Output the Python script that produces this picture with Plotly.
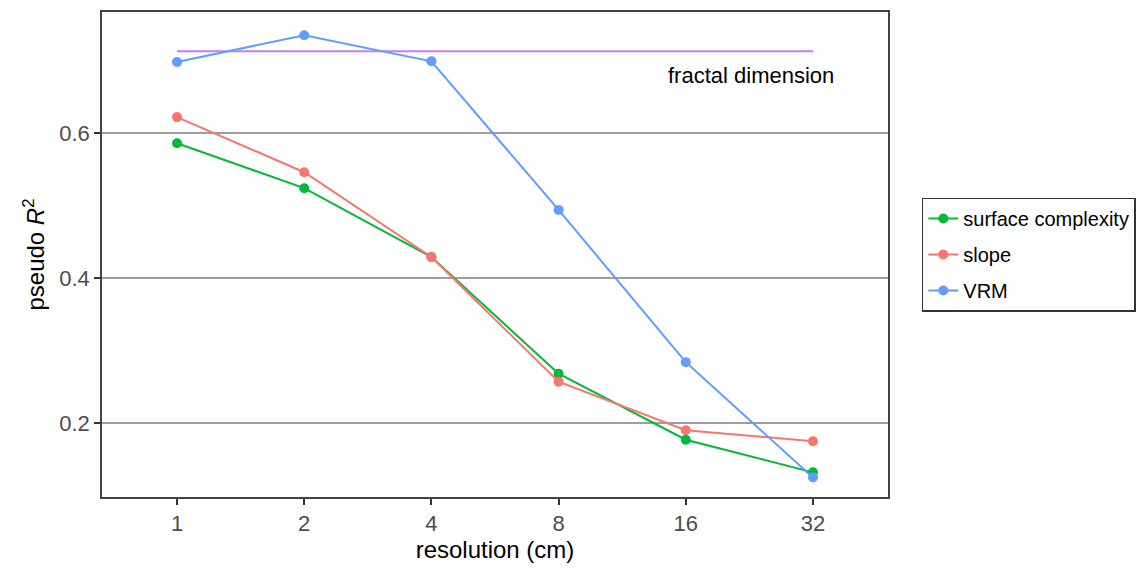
import plotly.graph_objects as go

resolution = ["1", "2", "4", "8", "16", "32"]
surface_complexity = [0.586, 0.524, 0.429, 0.268, 0.177, 0.132]
slope = [0.622, 0.546, 0.429, 0.257, 0.190, 0.175]
vrm = [0.698, 0.735, 0.699, 0.494, 0.284, 0.125]
fractal_dimension = 0.713
y_ticks = [0.2, 0.4, 0.6]

FONT = "Liberation Sans, Arial, sans-serif"

fig = go.Figure()
fig.add_trace(go.Scatter(
    x=[resolution[0], resolution[-1]], y=[fractal_dimension, fractal_dimension],
    mode="lines", line=dict(color="#C77CFF", width=2), showlegend=False,
    hoverinfo="skip"))

series = [("surface complexity", surface_complexity, "#00BA38"),
          ("slope", slope, "#F8766D"),
          ("VRM", vrm, "#619CFF")]
for name, vals, col in series:
    fig.add_trace(go.Scatter(
        x=resolution, y=vals, mode="lines+markers", name=name, legendgroup=name,
        line=dict(color=col, width=2), marker=dict(color=col, size=10)))

fig.add_annotation(x=4.51, y=0.679, xref="x", yref="y", text="fractal dimension",
                   showarrow=False, font=dict(family=FONT, size=22, color="black"))

fig.update_layout(
    width=1137, height=570,
    margin=dict(l=102, r=249, t=12, b=73, autoexpand=False),
    paper_bgcolor="white", plot_bgcolor="white",
    font=dict(family=FONT, size=16, color="black"),
    legend=dict(x=1.043, y=0.5, xanchor="left", yanchor="middle",
                bordercolor="#333333", borderwidth=1.5,
                font=dict(family=FONT, size=20, color="black"),
                tracegroupgap=7, itemwidth=30),
    xaxis=dict(
        type="category", categoryorder="array", categoryarray=resolution,
        range=[-0.59, 5.59],
        showgrid=False, showline=True, mirror=True, linecolor="#444444", linewidth=1.5,
        ticks="outside", ticklen=6, tickcolor="#333333", tickwidth=1.5,
        tickfont=dict(family=FONT, size=22, color="#4D4D4D"),
        title=dict(text="resolution (cm)", font=dict(family=FONT, size=24, color="black"), standoff=6),
        zeroline=False),
    yaxis=dict(
        range=[0.098, 0.767], tickvals=y_ticks, ticktext=[f"{v:.1f}" for v in y_ticks],
        showgrid=True, gridcolor="#9E9E9E", gridwidth=2,
        showline=True, mirror=True, linecolor="#444444", linewidth=1.5,
        ticks="outside", ticklen=6, tickcolor="#333333", tickwidth=1.5,
        tickfont=dict(family=FONT, size=22, color="#4D4D4D"),
        title=dict(text="pseudo <i>R</i><sup>2</sup>", font=dict(family=FONT, size=24, color="black"), standoff=8),
        zeroline=False),
)

fig.write_html("out.html")
